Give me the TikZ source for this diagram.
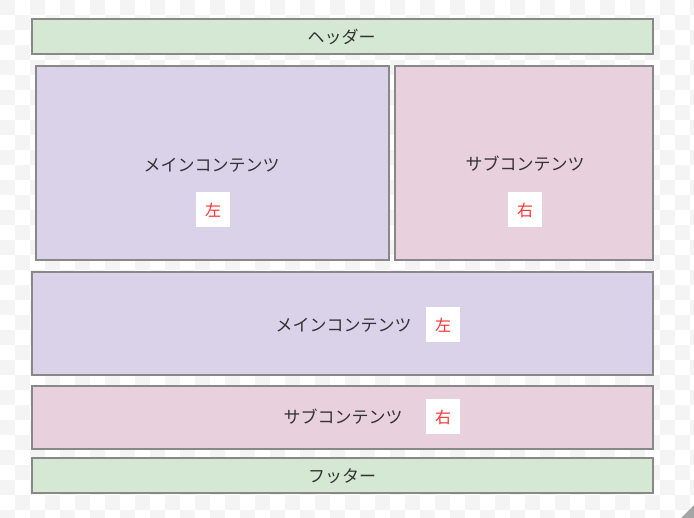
\documentclass[tikz,border=0pt]{standalone}
\usepackage{fontspec}
\newfontfamily\jp{Noto Sans CJK JP}
\definecolor{gfill}{HTML}{D5E8D4}
\definecolor{pfill}{HTML}{DAD2E9}
\definecolor{rfill}{HTML}{E8D0DC}
\definecolor{edge}{HTML}{888888}
\definecolor{txt}{HTML}{333333}
\definecolor{lblred}{HTML}{FF3333}
\definecolor{chk}{HTML}{F4F4F4}
\tikzset{
  panel/.style={draw=edge, line width=1.2pt, inner sep=0pt, anchor=center},
  ptext/.style={font=\jp\fontsize{17}{20}\selectfont, text=txt, inner sep=0pt, anchor=center},
  lbl/.style={fill=white, minimum width=34pt, minimum height=35pt, inner sep=0pt, anchor=center,
              font=\jp\fontsize{16}{18}\selectfont, text=lblred},
}
\begin{document}
\begin{tikzpicture}[x=1pt,y=-1pt]
\useasboundingbox (0,0) rectangle (694,518);
\begin{scope}
\clip (0,0) rectangle (694,518);
\fill[white] (0,0) rectangle (694,518);
\foreach \i in {0,...,23} {
  \foreach \j in {0,...,17} {
    \fill[chk] (\i*30,\j*30) rectangle ++(15,15);
    \fill[chk] (\i*30+15,\j*30+15) rectangle ++(15,15);
  }
}
\end{scope}
% panels
\node[panel, fill=gfill, minimum width=621pt, minimum height=35pt] (header) at (342.5,36.5) {};
\node[panel, fill=pfill, minimum width=353pt, minimum height=194pt] (main) at (212.5,163) {};
\node[panel, fill=rfill, minimum width=258pt, minimum height=194pt] (sub) at (524,163) {};
\node[panel, fill=pfill, minimum width=621pt, minimum height=103pt] (main2) at (342.5,323.5) {};
\node[panel, fill=rfill, minimum width=621pt, minimum height=63pt] (sub2) at (342.5,417.5) {};
\node[panel, fill=gfill, minimum width=621pt, minimum height=35pt] (footer) at (342.5,475.5) {};
% texts
\node[ptext] (headert) at (341.5,37) {ヘッダー};
\node[ptext] (maint) at (211.5,165) {メインコンテンツ};
\node[lbl] (mainl) at (213,210) {左};
\node[ptext] (subt) at (525,164) {サブコンテンツ};
\node[lbl] (subl) at (525,210) {右};
\node[ptext] (main2t) at (343.5,325) {メインコンテンツ};
\node[lbl] (main2l) at (443,325) {左};
\node[ptext] (sub2t) at (343,417) {サブコンテンツ};
\node[lbl] (sub2l) at (443,417) {右};
\node[ptext] (footert) at (342,476) {フッター};
% resize grip
\fill[gray!70] (694,505) -- (694,518) -- (681,518) -- cycle;
\end{tikzpicture}
\end{document}
